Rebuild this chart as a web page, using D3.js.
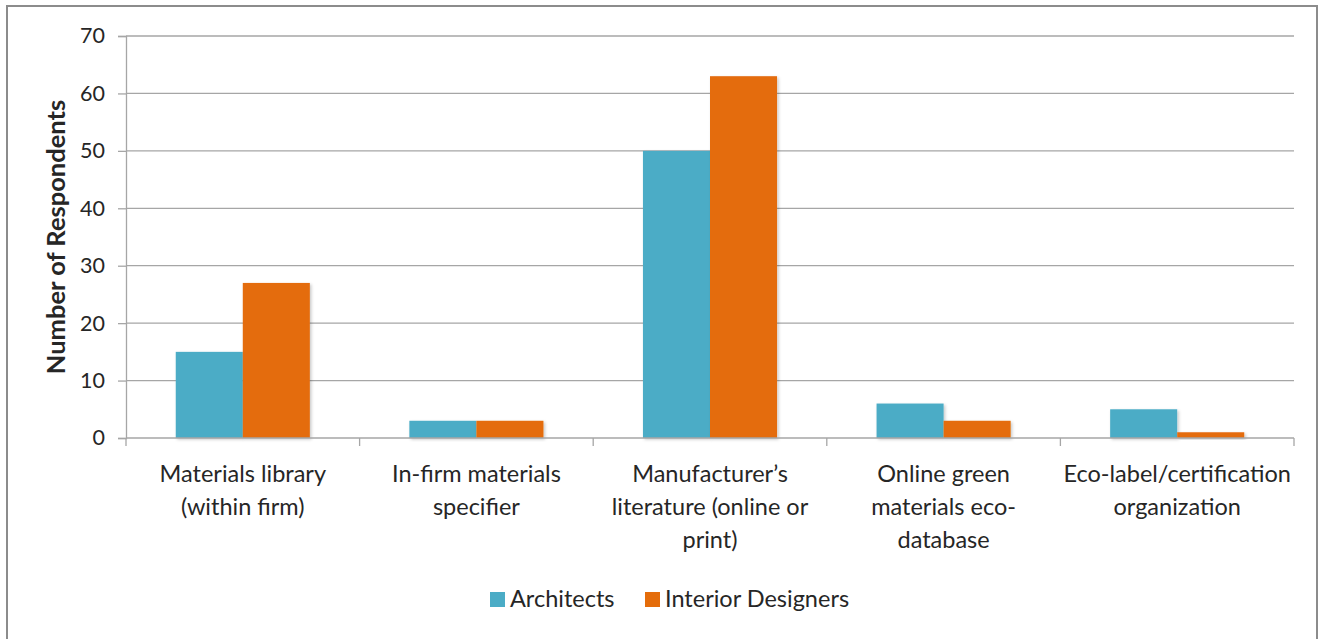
<!DOCTYPE html>
<html>
<head>
<meta charset="utf-8">
<script src="https://cdn.jsdelivr.net/npm/d3@7"></script>
<style>
  html, body { margin: 0; padding: 0; background: #fff; }
  svg { display: block; }
  text { font-family: Lato, "Open Sans", sans-serif; fill: #262626; }
</style>
</head>
<body>
<svg id="chart" width="1322" height="639"></svg>
<script>
// Sources of sustainable-materials information, by respondent group
const categories = [
  ["Materials library", "(within firm)"],
  ["In-firm materials", "specifier"],
  ["Manufacturer\u2019s", "literature (online or", "print)"],
  ["Online green", "materials eco-", "database"],
  ["Eco-label/certification", "organization"]
];
const seriesNames = ["Architects", "Interior Designers"];
const architects = [15, 3, 50, 6, 5];
const interiorDesigners = [27, 3, 63, 3, 1];
const yTicks = [0, 10, 20, 30, 40, 50, 60, 70];
const colors = ["#4BACC6", "#E46C0A"];

const series = [architects, interiorDesigners];
const svg = d3.select("#chart");

// outer chart frame
svg.append("rect")
  .attr("x", 7).attr("y", 6).attr("width", 1310).attr("height", 650)
  .attr("fill", "#fff").attr("stroke", "#8c8c8c").attr("stroke-width", 2);

const plotLeft = 126, plotRight = 1294, plotTop = 36, plotBottom = 438;

const y = d3.scaleLinear().domain([0, 70]).range([plotBottom, plotTop]);
const x0 = d3.scaleBand().domain(d3.range(categories.length))
  .range([plotLeft, plotRight]).paddingInner(0.426).paddingOuter(0.213);
const x1 = d3.scaleBand().domain(d3.range(seriesNames.length))
  .range([0, x0.bandwidth()]);

// soft shadow under the bars
const defs = svg.append("defs");
const f = defs.append("filter").attr("id", "shadow")
  .attr("x", "-10%").attr("y", "-10%").attr("width", "130%").attr("height", "130%");
f.append("feDropShadow").attr("dx", 1.5).attr("dy", 1.5).attr("stdDeviation", 1.5)
  .attr("flood-color", "#000").attr("flood-opacity", 0.22);

// gridlines + y axis
const yAxis = d3.axisLeft(y).tickValues(yTicks).tickSize(8).tickPadding(13);
const gy = svg.append("g").attr("transform", `translate(${plotLeft},0)`).call(yAxis);
gy.select(".domain").attr("stroke", "#a6a6a6").attr("stroke-width", 1.3);
gy.selectAll(".tick line").attr("stroke", "#a6a6a6").attr("stroke-width", 1.3);
gy.selectAll(".tick text").attr("font-size", 21.5).attr("fill", "#262626")
  .style("font-family", "Lato, 'Open Sans', sans-serif");

svg.append("g").selectAll("line")
  .data(yTicks.filter(d => d > 0))
  .join("line")
  .attr("x1", plotLeft).attr("x2", plotRight)
  .attr("y1", d => y(d)).attr("y2", d => y(d))
  .attr("stroke", "#a6a6a6").attr("stroke-width", 1.3);

// bars
const groups = svg.append("g").selectAll("g")
  .data(categories.map((c, i) => i))
  .join("g")
  .attr("transform", i => `translate(${x0(i)},0)`);

groups.selectAll("rect")
  .data(i => series.map((s, k) => ({ k, v: s[i] })))
  .join("rect")
  .attr("x", d => x1(d.k))
  .attr("width", x1.bandwidth())
  .attr("y", d => y(d.v))
  .attr("height", d => y(0) - y(d.v))
  .attr("fill", d => colors[d.k])
  .attr("filter", "url(#shadow)");

// x axis baseline with category separators
const xEdge = d3.scaleLinear().domain([0, categories.length]).range([plotLeft, plotRight]);
const gx = svg.append("g");
gx.append("line").attr("x1", plotLeft).attr("x2", plotRight)
  .attr("y1", plotBottom).attr("y2", plotBottom)
  .attr("stroke", "#a6a6a6").attr("stroke-width", 1.3);
gx.selectAll("line.sep")
  .data(d3.range(categories.length + 1))
  .join("line").attr("class", "sep")
  .attr("x1", d => xEdge(d)).attr("x2", d => xEdge(d))
  .attr("y1", plotBottom).attr("y2", plotBottom + 8)
  .attr("stroke", "#a6a6a6").attr("stroke-width", 1.3);

// category labels
svg.append("g").selectAll("text")
  .data(categories)
  .join("text")
  .attr("text-anchor", "middle")
  .attr("font-size", 23.5)
  .attr("transform", (d, i) => `translate(${x0(i) + x0.bandwidth() / 2},482)`)
  .selectAll("tspan")
  .data(d => d)
  .join("tspan")
  .attr("x", 0)
  .attr("dy", (d, j) => j === 0 ? 0 : 33)
  .text(d => d);

// y axis title
svg.append("text")
  .attr("transform", `translate(65,237) rotate(-90)`)
  .attr("text-anchor", "middle")
  .attr("font-size", 25.5).attr("font-weight", "bold")
  .attr("fill", "#000")
  .text("Number of Respondents");

// legend
const legend = svg.append("g").attr("transform", "translate(490,599)");
const legendX = [0, 155];
seriesNames.forEach((name, k) => {
  const g = legend.append("g").attr("transform", `translate(${legendX[k]},0)`);
  g.append("rect").attr("x", 0).attr("y", -7).attr("width", 15).attr("height", 15)
    .attr("fill", colors[k]);
  g.append("text").attr("x", 20).attr("y", 8).attr("font-size", 23.5).text(name);
});
</script>
</body>
</html>
